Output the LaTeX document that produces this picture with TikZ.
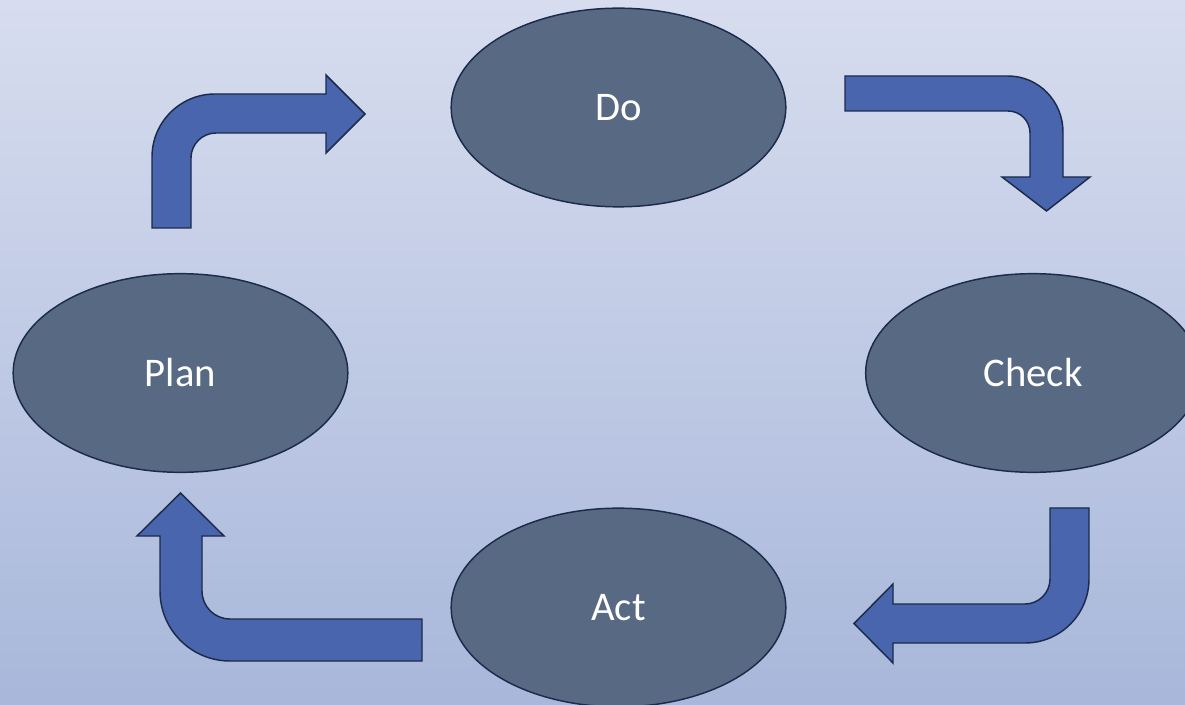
\documentclass[tikz,border=0pt]{standalone}
\usepackage{fontspec}
\setmainfont{Carlito}
\usetikzlibrary{shapes.geometric}
\definecolor{bgtop}{RGB}{215,221,239}
\definecolor{bgbot}{RGB}{168,183,218}
\definecolor{ellfill}{RGB}{88,105,132}
\definecolor{arrfill}{RGB}{72,101,174}
\definecolor{edgecol}{RGB}{28,43,74}
\tikzset{
  stage/.style={ellipse, draw=edgecol, line width=1.1pt, fill=ellfill,
    minimum width=251pt, minimum height=149pt, inner sep=0pt,
    text=white, font=\fontsize{30.5}{36}\selectfont},
  bentarrow/.style={draw=edgecol, line width=1.1pt, fill=arrfill, line join=miter}
}
\begin{document}
\begin{tikzpicture}[x=0.75pt,y=-0.75pt]
\useasboundingbox (0,0) rectangle (1185,705);
\clip (0,0) rectangle (1185,705);
\shade[top color=bgtop, bottom color=bgbot] (0,0) rectangle (1185,705);

\node[stage] (do) at (618.5,107.5) {\raisebox{-1.5pt}{Do}};
\node[stage] (plan) at (180.5,373) {\raisebox{-1pt}{Plan}};
\node[stage] (check) at (1033,373) {\raisebox{-1pt}{Check}};
\node[stage] (act) at (618.5,607.5) {\raisebox{-1.5pt}{Act}};

% Plan -> Do
\draw[bentarrow] (152,228) -- (152,157)
  .. controls (152,122.2) and (180.2,94) .. (215,94)
  -- (326,94) -- (326,75) -- (365,114) -- (326,153) -- (326,133) -- (216,133)
  .. controls (202.2,133) and (191,144.2) .. (191,158)
  -- (191,228) -- cycle;

% Do -> Check
\draw[bentarrow] (845,76) -- (1008,76)
  .. controls (1038.4,76) and (1063,101.1) .. (1063,132)
  -- (1063,177) -- (1090,177) -- (1046.5,211) -- (1002,177) -- (1030,177) -- (1030,133)
  .. controls (1030,120.8) and (1020.2,111) .. (1008,111)
  -- (845,111) -- cycle;

% Check -> Act
\draw[bentarrow] (1050,508) -- (1089,508) -- (1089,579)
  .. controls (1089,614.3) and (1060.3,643) .. (1025,643)
  -- (893,643) -- (893,663) -- (854,623.5) -- (893,584) -- (893,604) -- (1025,604)
  .. controls (1038.8,604) and (1050,592.8) .. (1050,579)
  -- cycle;

% Act -> Plan
\draw[bentarrow] (422,619) -- (230,619)
  .. controls (214.5,619) and (202,606.5) .. (202,591)
  -- (202,536) -- (224,536) -- (180.5,493) -- (137,536) -- (160,536) -- (160,591)
  .. controls (160,629.7) and (191.3,661) .. (230,661)
  -- (422,661) -- cycle;
\end{tikzpicture}
\end{document}
